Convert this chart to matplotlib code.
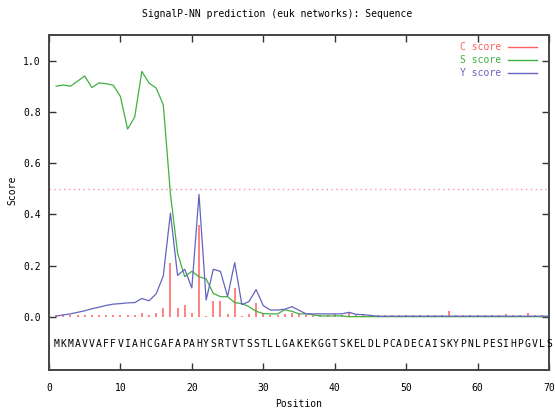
import matplotlib
matplotlib.use("Agg")
import matplotlib.pyplot as plt
import numpy as np

sequence = "MKMAVVAFFVIAHCGAFAPAHYSRTVTSSTLLGAKEKGGTSKELDLPCADECAISKYPNLPESIHPGVLS"
positions = list(range(1, 71))

c_score = [0.006, 0.008, 0.008, 0.006, 0.008, 0.008, 0.007, 0.007, 0.007, 0.007,
           0.008, 0.008, 0.014, 0.009, 0.015, 0.034, 0.212, 0.034, 0.047, 0.017,
           0.360, 0.005, 0.064, 0.064, 0.012, 0.113, 0.005, 0.012, 0.055, 0.012,
           0.008, 0.008, 0.012, 0.017, 0.010, 0.008, 0.009, 0.006, 0.008, 0.010,
           0.008, 0.020, 0.007, 0.007, 0.009, 0.006, 0.006, 0.006, 0.006, 0.006,
           0.006, 0.006, 0.006, 0.006, 0.006, 0.022, 0.006, 0.006, 0.006, 0.006,
           0.006, 0.006, 0.006, 0.012, 0.006, 0.006, 0.014, 0.007, 0.007, 0.008]

s_score = [0.900, 0.905, 0.900, 0.920, 0.940, 0.895, 0.913, 0.910, 0.904, 0.860,
           0.733, 0.780, 0.958, 0.913, 0.893, 0.828, 0.480, 0.250, 0.157, 0.178,
           0.157, 0.148, 0.092, 0.079, 0.079, 0.056, 0.052, 0.040, 0.022, 0.013,
           0.012, 0.012, 0.028, 0.022, 0.012, 0.012, 0.008, 0.004, 0.004, 0.004,
           0.004, 0.001, 0.001, 0.001, 0.001, 0.001, 0.001, 0.001, 0.001, 0.001,
           0.001, 0.001, 0.001, 0.001, 0.001, 0.001, 0.001, 0.001, 0.001, 0.001,
           0.001, 0.001, 0.001, 0.001, 0.001, 0.001, 0.001, 0.001, 0.001, 0.001]

y_score = [0.003, 0.008, 0.012, 0.018, 0.024, 0.032, 0.038, 0.045, 0.050, 0.052,
           0.055, 0.056, 0.072, 0.063, 0.090, 0.160, 0.405, 0.162, 0.186, 0.113,
           0.478, 0.066, 0.186, 0.178, 0.080, 0.212, 0.048, 0.060, 0.107, 0.044,
           0.027, 0.027, 0.030, 0.040, 0.026, 0.012, 0.012, 0.012, 0.012, 0.012,
           0.012, 0.018, 0.010, 0.009, 0.006, 0.003, 0.003, 0.003, 0.003, 0.003,
           0.003, 0.003, 0.003, 0.003, 0.003, 0.003, 0.003, 0.003, 0.003, 0.003,
           0.003, 0.003, 0.003, 0.003, 0.003, 0.003, 0.003, 0.003, 0.003, 0.003]

threshold = 0.5
x_ticks = [0, 10, 20, 30, 40, 50, 60, 70]
y_ticks = [0.0, 0.2, 0.4, 0.6, 0.8, 1.0]
y_tick_labels = ["0.0", "0.2", "0.4", "0.6", "0.8", "1.0"]

RED = "#ff6060"
GREEN = "#40b040"
BLUE = "#6464c0"
PINK = "#ff90c0"
MONO = "DejaVu Sans Mono"
FS = 7

fig = plt.figure(figsize=(5.55, 4.15), dpi=100)
ax = fig.add_axes([49 / 555, 45 / 415, 500 / 555, 335 / 415])

ax.vlines(positions, 0, c_score, color=RED, lw=1.3, alpha=0.85)
ax.plot(positions, s_score, color=GREEN, lw=0.9)
ax.plot(positions, y_score, color=BLUE, lw=0.9)
ax.axhline(threshold, color=PINK, lw=1.0, ls=(0, (1, 2.5)))

for i, ch in zip(positions, sequence):
    ax.text(i, -0.105, ch, ha="center", va="center", fontsize=FS, family=MONO, color="black")

ax.set_xlim(0, 70)
ax.set_ylim(-0.207, 1.10)
ax.set_xticks(x_ticks)
ax.set_xticklabels([str(t) for t in x_ticks], family=MONO, fontsize=FS)
ax.set_yticks(y_ticks)
ax.set_yticklabels(y_tick_labels, family=MONO, fontsize=FS)
ax.tick_params(direction="in", length=5, width=1, top=True, right=True, color="#333333")
ax.tick_params(axis="x", pad=9)
ax.tick_params(axis="y", pad=6)
for s in ax.spines.values():
    s.set_color("#444444")
    s.set_linewidth(1.4)

ax.set_xlabel("Position", family=MONO, fontsize=FS)
ax.set_ylabel("Score", family=MONO, fontsize=FS)
ax.yaxis.set_label_coords((12 - 49) / 500, (370 - 190) / 335, transform=ax.transAxes)
ax.yaxis.label.set_va("center")
ax.xaxis.set_label_coords(0.5, (370 - 404) / 335, transform=ax.transAxes)
ax.xaxis.label.set_va("center")
fig.text(0.5, 1 - 14 / 415, "SignalP-NN prediction (euk networks): Sequence",
         ha="center", va="center", family=MONO, fontsize=FS)

# legend (text right-aligned, line sample to the right)
labels = ["C score", "S score", "Y score"]
colors = [RED, GREEN, BLUE]
for k, (lab, col) in enumerate(zip(labels, colors)):
    yy = 1 - (12 + 13 * k) / 335
    ax.text(0.905, yy, lab, transform=ax.transAxes, ha="right", va="center",
            family=MONO, fontsize=FS, color=col)
    ax.plot([0.918, 0.976], [yy, yy], transform=ax.transAxes, color=col, lw=1.0)

fig.savefig("out.png", dpi=100)
